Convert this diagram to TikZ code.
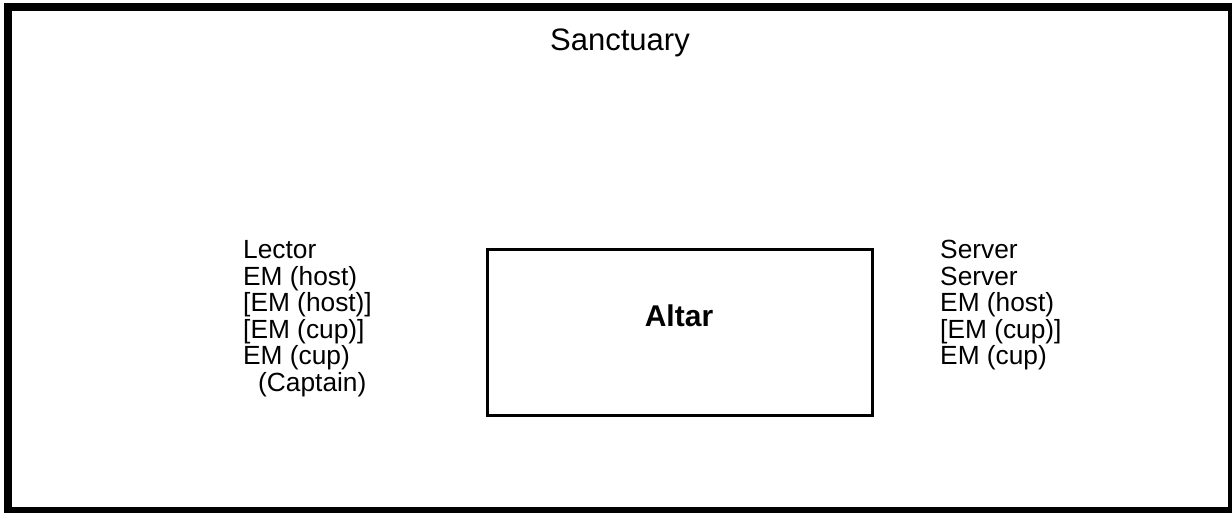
\documentclass[tikz,border=0pt]{standalone}
\usepackage{fontspec}
\setmainfont{Liberation Sans}
\usetikzlibrary{positioning}
\tikzset{
x=1pt, y=-1pt,
frame/.style={line width=8pt},
altar box/.style={draw, line width=3pt},
roster/.style={anchor=base west, inner sep=0pt, font=\fontsize{26.3}{30}\selectfont}}

\begin{document}
\begin{tikzpicture}
\useasboundingbox (0,0) rectangle (1232,512);
\draw[frame] (8,7) rectangle (1232,511);

\node[anchor=base, inner sep=0pt, font=\fontsize{31}{36}\selectfont] (sanctuary) at (620,50) {Sanctuary};

\node[altar box, minimum width=385pt, minimum height=166pt, inner sep=0pt] (altar) at (679.5,332) {};
\node[anchor=base, inner sep=0pt, font=\fontsize{30}{36}\selectfont\bfseries] (altarlabel) at (679,326) {Altar};

% left of the altar
\node[roster] (lector) at (243,258.5) {Lector};
\node[roster] (emhostL) at (243,285) {EM (host)};
\node[roster] (emhostLx) at (243,311.5) {[EM (host)]};
\node[roster] (emcupLx) at (243,338) {[EM (cup)]};
\node[roster] (emcupL) at (243,364.5) {EM (cup)};
\node[roster] (captain) at (258,391) {(Captain)};

% right of the altar
\node[roster] (serverA) at (940,258.5) {Server};
\node[roster] (serverB) at (940,285) {Server};
\node[roster] (emhostR) at (940,311.5) {EM (host)};
\node[roster] (emcupRx) at (940,338) {[EM (cup)]};
\node[roster] (emcupR) at (940,364.5) {EM (cup)};
\end{tikzpicture}
\end{document}
